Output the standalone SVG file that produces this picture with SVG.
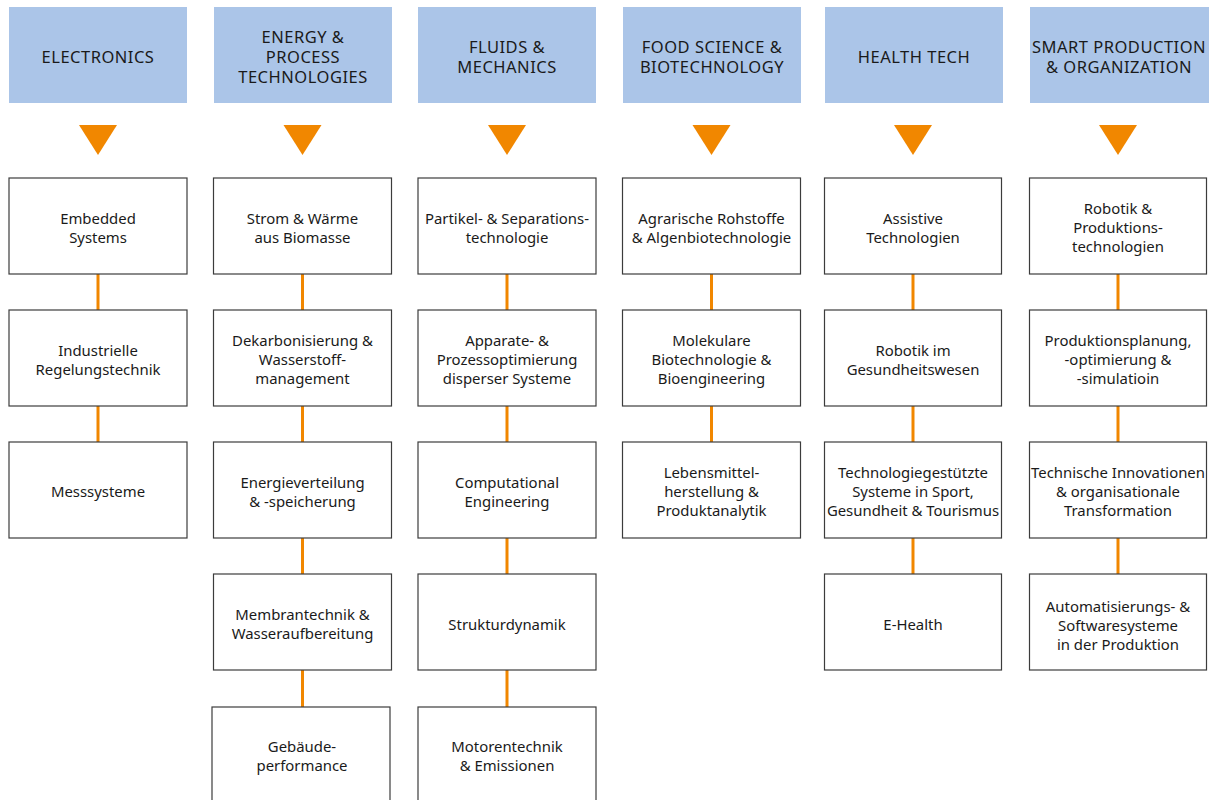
<svg xmlns="http://www.w3.org/2000/svg" width="1209" height="800" viewBox="0 0 1209 800">
<style>
.hd{fill:#abc5e8}
.tri{fill:#f18700}
.bx{fill:#fff;stroke:#3c3c3c;stroke-width:1.2}
.cn{stroke:#f18700;stroke-width:3}
text{font-family:"Noto Sans","Liberation Sans",sans-serif;fill:#1a1a1a;text-anchor:middle}
.h{font-size:16.5px;letter-spacing:0.5px}
.t{font-size:14.9px}
</style>
<rect width="1209" height="800" fill="#fff"/>
<defs>
<polygon id="tr" points="-19,0 19,0 0,30" class="tri"/>
</defs>
<g id="connectors">
<line class="cn" x1="98" y1="274" x2="98" y2="310"/>
<line class="cn" x1="98" y1="406" x2="98" y2="442"/>
<line class="cn" x1="302.5" y1="274" x2="302.5" y2="310"/>
<line class="cn" x1="302.5" y1="406" x2="302.5" y2="442"/>
<line class="cn" x1="302.5" y1="538" x2="302.5" y2="574"/>
<line class="cn" x1="302.5" y1="670" x2="302.5" y2="707"/>
<line class="cn" x1="507" y1="274" x2="507" y2="310"/>
<line class="cn" x1="507" y1="406" x2="507" y2="442"/>
<line class="cn" x1="507" y1="538" x2="507" y2="574"/>
<line class="cn" x1="507" y1="670" x2="507" y2="707"/>
<line class="cn" x1="711.5" y1="274" x2="711.5" y2="310"/>
<line class="cn" x1="711.5" y1="406" x2="711.5" y2="442"/>
<line class="cn" x1="913" y1="274" x2="913" y2="310"/>
<line class="cn" x1="913" y1="406" x2="913" y2="442"/>
<line class="cn" x1="913" y1="538" x2="913" y2="574"/>
<line class="cn" x1="1118" y1="274" x2="1118" y2="310"/>
<line class="cn" x1="1118" y1="406" x2="1118" y2="442"/>
<line class="cn" x1="1118" y1="538" x2="1118" y2="574"/>
</g>
<g id="h1"><rect class="hd" x="9" y="7" width="178" height="96"/><text class="h" x="98" y="63">ELECTRONICS</text></g>
<g id="h2"><rect class="hd" x="214" y="7" width="178" height="96"/><text class="h" x="303" y="43">ENERGY &amp;</text><text class="h" x="303" y="63">PROCESS</text><text class="h" x="303" y="83">TECHNOLOGIES</text></g>
<g id="h3"><rect class="hd" x="418" y="7" width="178" height="96"/><text class="h" x="507" y="53">FLUIDS &amp;</text><text class="h" x="507" y="73">MECHANICS</text></g>
<g id="h4"><rect class="hd" x="623" y="7" width="178" height="96"/><text class="h" x="712" y="53">FOOD SCIENCE &amp;</text><text class="h" x="712" y="73">BIOTECHNOLOGY</text></g>
<g id="h5"><rect class="hd" x="825" y="7" width="178" height="96"/><text class="h" x="914" y="63">HEALTH TECH</text></g>
<g id="h6"><rect class="hd" x="1030" y="7" width="179" height="96"/><text class="h" x="1119" y="53">SMART PRODUCTION</text><text class="h" x="1119" y="73">&amp; ORGANIZATION</text></g>
<g id="arrows">
<use href="#tr" x="98" y="125"/>
<use href="#tr" x="302.5" y="125"/>
<use href="#tr" x="507" y="125"/>
<use href="#tr" x="711.5" y="125"/>
<use href="#tr" x="913" y="125"/>
<use href="#tr" x="1118" y="125"/>
</g>
<g id="n1a"><rect class="bx" x="9" y="178" width="178" height="96"/><text class="t" x="98" y="224">Embedded</text><text class="t" x="98" y="243">Systems</text></g>
<g id="n1b"><rect class="bx" x="9" y="310" width="178" height="96"/><text class="t" x="98" y="356">Industrielle</text><text class="t" x="98" y="375">Regelungstechnik</text></g>
<g id="n1c"><rect class="bx" x="9" y="442" width="178" height="96"/><text class="t" x="98" y="497">Messsysteme</text></g>
<g id="n2a"><rect class="bx" x="213.5" y="178" width="178" height="96"/><text class="t" x="302.5" y="224">Strom &amp; Wärme</text><text class="t" x="302.5" y="243">aus Biomasse</text></g>
<g id="n2b"><rect class="bx" x="213.5" y="310" width="178" height="96"/><text class="t" x="302.5" y="346">Dekarbonisierung &amp;</text><text class="t" x="302.5" y="365">Wasserstoff-</text><text class="t" x="302.5" y="384">management</text></g>
<g id="n2c"><rect class="bx" x="213.5" y="442" width="178" height="96"/><text class="t" x="302.5" y="488">Energieverteilung</text><text class="t" x="302.5" y="507">&amp; -speicherung</text></g>
<g id="n2d"><rect class="bx" x="213.5" y="574" width="178" height="96"/><text class="t" x="302.5" y="620">Membrantechnik &amp;</text><text class="t" x="302.5" y="639">Wasseraufbereitung</text></g>
<g id="n2e"><rect class="bx" x="212" y="707" width="178" height="96"/><text class="t" x="302" y="752">Gebäude-</text><text class="t" x="302" y="771">performance</text></g>
<g id="n3a"><rect class="bx" x="418" y="178" width="178" height="96"/><text class="t" x="507" y="224">Partikel- &amp; Separations-</text><text class="t" x="507" y="243">technologie</text></g>
<g id="n3b"><rect class="bx" x="418" y="310" width="178" height="96"/><text class="t" x="507" y="346">Apparate- &amp;</text><text class="t" x="507" y="365">Prozessoptimierung</text><text class="t" x="507" y="384">disperser Systeme</text></g>
<g id="n3c"><rect class="bx" x="418" y="442" width="178" height="96"/><text class="t" x="507" y="488">Computational</text><text class="t" x="507" y="507">Engineering</text></g>
<g id="n3d"><rect class="bx" x="418" y="574" width="178" height="96"/><text class="t" x="507" y="630">Strukturdynamik</text></g>
<g id="n3e"><rect class="bx" x="418" y="707" width="178" height="96"/><text class="t" x="507" y="752">Motorentechnik</text><text class="t" x="507" y="771">&amp; Emissionen</text></g>
<g id="n4a"><rect class="bx" x="622.5" y="178" width="178" height="96"/><text class="t" x="711.5" y="224">Agrarische Rohstoffe</text><text class="t" x="711.5" y="243">&amp; Algenbiotechnologie</text></g>
<g id="n4b"><rect class="bx" x="622.5" y="310" width="178" height="96"/><text class="t" x="711.5" y="346">Molekulare</text><text class="t" x="711.5" y="365">Biotechnologie &amp;</text><text class="t" x="711.5" y="384">Bioengineering</text></g>
<g id="n4c"><rect class="bx" x="622.5" y="442" width="178" height="96"/><text class="t" x="711.5" y="478">Lebensmittel-</text><text class="t" x="711.5" y="497">herstellung &amp;</text><text class="t" x="711.5" y="516">Produktanalytik</text></g>
<g id="n5a"><rect class="bx" x="824.5" y="178" width="177" height="96"/><text class="t" x="913" y="224">Assistive</text><text class="t" x="913" y="243">Technologien</text></g>
<g id="n5b"><rect class="bx" x="824.5" y="310" width="177" height="96"/><text class="t" x="913" y="356">Robotik im</text><text class="t" x="913" y="375">Gesundheitswesen</text></g>
<g id="n5c"><rect class="bx" x="824.5" y="442" width="177" height="96"/><text class="t" x="913" y="478">Technologiegestützte</text><text class="t" x="913" y="497">Systeme in Sport,</text><text class="t" x="913" y="516">Gesundheit &amp; Tourismus</text></g>
<g id="n5d"><rect class="bx" x="824.5" y="574" width="177" height="96"/><text class="t" x="913" y="630">E-Health</text></g>
<g id="n6a"><rect class="bx" x="1029.5" y="178" width="177" height="96"/><text class="t" x="1118" y="214">Robotik &amp;</text><text class="t" x="1118" y="233">Produktions-</text><text class="t" x="1118" y="252">technologien</text></g>
<g id="n6b"><rect class="bx" x="1029.5" y="310" width="177" height="96"/><text class="t" x="1118" y="346">Produktionsplanung,</text><text class="t" x="1118" y="365">-optimierung &amp;</text><text class="t" x="1118" y="384">-simulatioin</text></g>
<g id="n6c"><rect class="bx" x="1029.5" y="442" width="177" height="96"/><text class="t" x="1118" y="478">Technische Innovationen</text><text class="t" x="1118" y="497">&amp; organisationale</text><text class="t" x="1118" y="516">Transformation</text></g>
<g id="n6d"><rect class="bx" x="1029.5" y="574" width="177" height="96"/><text class="t" x="1118" y="612">Automatisierungs- &amp;</text><text class="t" x="1118" y="631">Softwaresysteme</text><text class="t" x="1118" y="650">in der Produktion</text></g>
</svg>
